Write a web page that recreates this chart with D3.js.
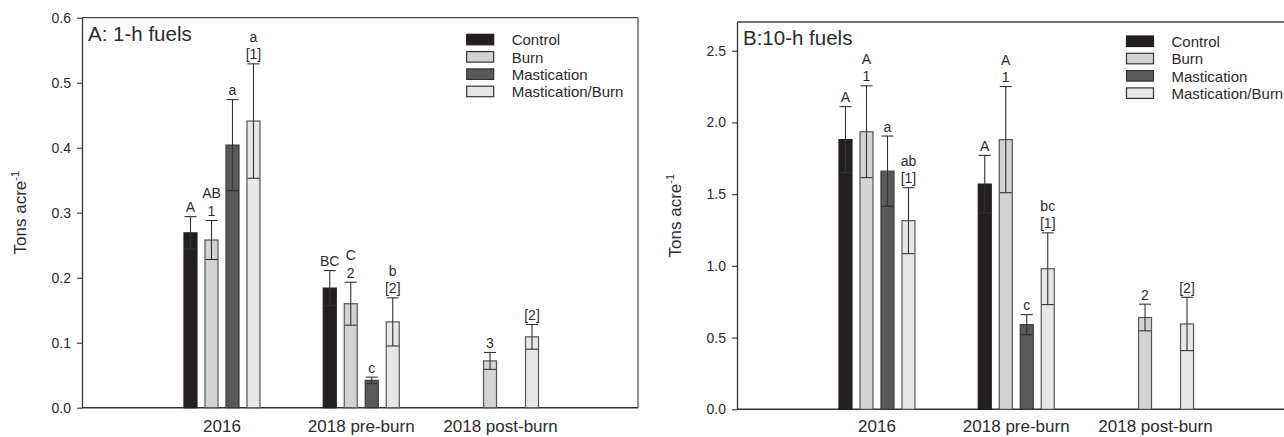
<!DOCTYPE html>
<html><head><meta charset="utf-8">
<script src="https://cdn.jsdelivr.net/npm/d3@7"></script>
<style>
html,body{margin:0;padding:0;background:#fff;}
svg{display:block;font-family:"Liberation Sans",Arial,Helvetica,sans-serif;}
</style></head>
<body><svg id="chart" width="1284" height="437"></svg>
<script>
// ---------- data ----------
const categories = ["2016", "2018 pre-burn", "2018 post-burn"];
const treatments = ["Control", "Burn", "Mastication", "Mastication/Burn"];

// Panel A: 1-h fuels (Tons acre-1)
const aControl = [0.269, 0.184, null];
const aBurn    = [0.258, 0.160, 0.072];
const aMast    = [0.404, 0.042, null];
const aMB      = [0.441, 0.132, 0.109];
const aControlErr = [0.025, 0.027, null];
const aBurnErr    = [0.030, 0.033, 0.013];
const aMastErr    = [0.070, 0.005, null];
const aMBErr      = [0.088, 0.037, 0.019];
const aControlLab = [["A"], ["BC"], null];
const aBurnLab    = [["AB", "1"], ["C", "2"], ["3"]];
const aMastLab    = [["a"], ["c"], null];
const aMBLab      = [["a", "[1]"], ["b", "[2]"], ["[2]"]];
const aTicks = [0, 0.1, 0.2, 0.3, 0.4, 0.5, 0.6];

// Panel B: 10-h fuels (Tons acre-1)
const bControl = [1.88, 1.57, null];
const bBurn    = [1.935, 1.88, 0.64];
const bMast    = [1.66, 0.59, null];
const bMB      = [1.315, 0.98, 0.595];
const bControlErr = [0.23, 0.20, null];
const bBurnErr    = [0.32, 0.37, 0.093];
const bMastErr    = [0.245, 0.07, null];
const bMBErr      = [0.23, 0.25, 0.186];
const bControlLab = [["A"], ["A"], null];
const bBurnLab    = [["A", "1"], ["A", "1"], ["2"]];
const bMastLab    = [["a"], ["c"], null];
const bMBLab      = [["ab", "[1]"], ["bc", "[1]"], ["[2]"]];
const bTicks = [0, 0.5, 1.0, 1.5, 2.0, 2.5];

// ---------- styles ----------
const fills   = ["#231f20", "#d1d3d4", "#58595b", "#e6e7e8"];
const strokes = ["#231f20", "#555555", "#3a3a3a", "#555555"];
const ink = "#2b2b2b";

const panels = [
  { title: "A: 1-h fuels", left: 82, top: 17.7, width: 556, height: 390, ymax: 0.6, ticks: aTicks,
    vals: [aControl, aBurn, aMast, aMB], errs: [aControlErr, aBurnErr, aMastErr, aMBErr],
    labs: [aControlLab, aBurnLab, aMastLab, aMBLab], legX: 384.7, legY: 16.6, frameRight: true },
  { title: "B:10-h fuels", left: 737, top: 22, width: 556, height: 387.3, ymax: 2.7, ticks: bTicks,
    vals: [bControl, bBurn, bMast, bMB], errs: [bControlErr, bBurnErr, bMastErr, bMBErr],
    labs: [bControlLab, bBurnLab, bMastLab, bMBLab], legX: 389.5, legY: 14, frameRight: true }
];

const svg = d3.select("#chart");

panels.forEach(p => {
  const g = svg.append("g").attr("transform", `translate(${p.left},${p.top})`);
  const y = d3.scaleLinear().domain([0, p.ymax]).range([p.height, 0]);
  const x = d3.scaleBand().domain(categories)
    .range([p.width * 0.12653, p.width * 0.87797]).paddingInner(0).paddingOuter(0);
  const xi = d3.scaleBand().domain(treatments)
    .range([x.bandwidth() / 2 - 42, x.bandwidth() / 2 + 42]).paddingInner(0.381).paddingOuter(0.1905);
  const bw = xi.bandwidth();

  // frame (top / right)
  g.append("line").attr("x1", 0).attr("x2", p.width).attr("y1", 0).attr("y2", 0)
    .attr("stroke", "#444").attr("stroke-width", 1.3);
  if (p.frameRight) g.append("line").attr("x1", p.width).attr("x2", p.width).attr("y1", 0).attr("y2", p.height)
    .attr("stroke", "#555").attr("stroke-width", 1.3);

  // y axis
  const ya = g.append("g").call(d3.axisLeft(y).tickValues(p.ticks).tickFormat(d3.format(".1f"))
      .tickSize(5).tickPadding(6).tickSizeOuter(0));
  ya.select(".domain").attr("stroke", "#333").attr("stroke-width", 1.3);
  ya.selectAll(".tick line").attr("stroke", "#333").attr("stroke-width", 1.1);
  ya.selectAll(".tick text").attr("fill", ink).style("font-size", "14px")
    .style("font-family", "'Liberation Sans',Arial,sans-serif");

  // x axis (labels baseline near y = 432.5 of the page)
  const pad = 432.5 - p.top - p.height - 12.07;
  const xa = g.append("g").attr("transform", `translate(0,${p.height})`)
    .call(d3.axisBottom(x).tickSize(0).tickPadding(pad).tickSizeOuter(0));
  xa.select(".domain").attr("d", `M0,0H${p.width}`).attr("stroke", "#333").attr("stroke-width", 1.5);
  xa.selectAll(".tick text").attr("fill", ink).attr("dy", "0.71em").style("font-size", "17px")
    .style("font-family", "'Liberation Sans',Arial,sans-serif");

  // bars, error bars, labels
  treatments.forEach((t, ti) => {
    categories.forEach((c, ci) => {
      const v = p.vals[ti][ci];
      if (v === null) return;
      const e = p.errs[ti][ci];
      const x0 = x(c) + xi(t);
      const cx = x0 + bw / 2;
      g.append("rect").attr("x", x0).attr("y", y(v)).attr("width", bw).attr("height", y(0) - y(v))
        .attr("fill", fills[ti]).attr("stroke", strokes[ti]).attr("stroke-width", 1.2);
      const eg = g.append("g").attr("stroke", "#333").attr("stroke-width", 1.1);
      eg.append("line").attr("x1", cx).attr("x2", cx).attr("y1", y(v - e)).attr("y2", y(v + e));
      eg.append("line").attr("x1", cx - 6).attr("x2", cx + 6).attr("y1", y(v + e)).attr("y2", y(v + e));
      eg.append("line").attr("x1", cx - 6).attr("x2", cx + 6).attr("y1", y(v - e)).attr("y2", y(v - e));
      const labs = p.labs[ti][ci];
      if (labs) {
        const n = labs.length;
        labs.forEach((s, li) => {
          g.append("text").attr("x", cx).attr("y", y(v + e) - 4.5 - (n - 1 - li) * 17.5)
            .attr("text-anchor", "middle").attr("fill", ink).style("font-size", "14px").text(s);
        });
      }
    });
  });

  // title
  g.append("text").attr("x", 6).attr("y", 23).attr("fill", ink).style("font-size", "20.5px").text(p.title);

  // legend
  const lg = g.append("g").attr("transform", `translate(${p.legX},${p.legY})`);
  treatments.forEach((t, ti) => {
    lg.append("rect").attr("x", 0).attr("y", ti * 17.3).attr("width", 27).attr("height", 10.5)
      .attr("fill", fills[ti]).attr("stroke", ti === 0 ? fills[0] : "#333").attr("stroke-width", 1.2);
    lg.append("text").attr("x", 45).attr("y", ti * 17.3 + 11).attr("fill", ink)
      .style("font-size", "15px").text(t);
  });

  // y title
  const yt = g.append("text").attr("transform", `translate(${-56},${p.height / 2}) rotate(-90)`)
    .attr("text-anchor", "middle").attr("fill", ink).style("font-size", "17px");
  yt.append("tspan").text("Tons acre");
  yt.append("tspan").attr("dy", "-7").style("font-size", "11px").text("-1");
});
</script>
</body></html>
